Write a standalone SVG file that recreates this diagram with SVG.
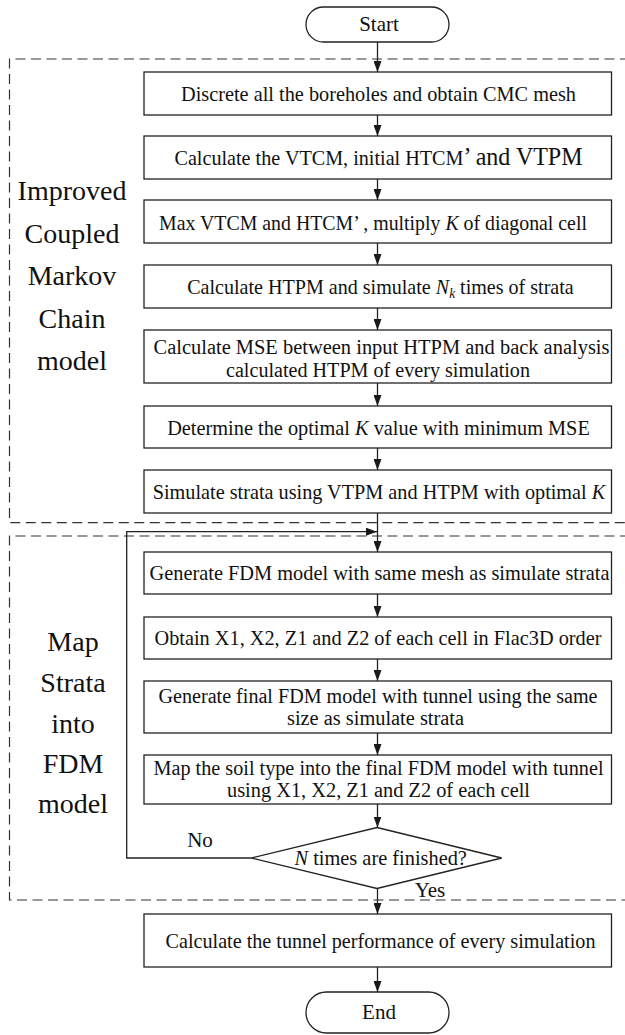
<svg xmlns="http://www.w3.org/2000/svg" width="625" height="1035" viewBox="0 0 625 1035">
  <style>
    .box { fill: #fff; stroke: #222; stroke-width: 1.3; }
    .frame { fill: none; stroke: #333; stroke-width: 1.2; stroke-dasharray: 10 5.5; }
    .wire { fill: none; stroke: #222; stroke-width: 1.3; }
    .t { font-family: "Liberation Serif", "Times New Roman", serif; font-size: 21px; fill: #111; }
    .t2 { font-size: 20px; }
    .lbl { font-family: "Liberation Serif", "Times New Roman", serif; font-size: 28px; fill: #111; text-anchor: middle; }
    .c { text-anchor: middle; }
    .i { font-style: italic; }
  </style>
  <defs>
    <marker id="ah" viewBox="0 0 11 8" refX="11" refY="4" markerWidth="11" markerHeight="8" markerUnits="userSpaceOnUse" orient="auto">
      <path d="M0,0 L11,4 L0,8 z" fill="#1a1a1a"/>
    </marker>
  </defs>

  <rect width="625" height="1035" fill="#fff"/>

  <!-- dashed stage frames (right edges run off the page) -->
  <g id="frames">
    <path class="frame" d="M630,59 H9.5 V522.7 H630"/>
    <path class="frame" d="M630,536 H9.5 V900 H630"/>
    <text class="lbl" x="72" y="200">Improved</text>
    <text class="lbl" x="72" y="242.5">Coupled</text>
    <text class="lbl" x="72" y="285">Markov</text>
    <text class="lbl" x="72" y="327.5">Chain</text>
    <text class="lbl" x="72" y="370">model</text>
    <text class="lbl" x="73" y="651">Map</text>
    <text class="lbl" x="73" y="692">Strata</text>
    <text class="lbl" x="73" y="733">into</text>
    <text class="lbl" x="73" y="773">FDM</text>
    <text class="lbl" x="73" y="813">model</text>
  </g>

  <!-- connectors -->
  <g id="connectors">
    <line class="wire" x1="377.5" y1="42" x2="377.5" y2="72" marker-end="url(#ah)"/>
    <line class="wire" x1="377.5" y1="115" x2="377.5" y2="136" marker-end="url(#ah)"/>
    <line class="wire" x1="377.5" y1="179" x2="377.5" y2="200" marker-end="url(#ah)"/>
    <line class="wire" x1="377.5" y1="243" x2="377.5" y2="265" marker-end="url(#ah)"/>
    <line class="wire" x1="377.5" y1="308" x2="377.5" y2="330" marker-end="url(#ah)"/>
    <line class="wire" x1="377.5" y1="383" x2="377.5" y2="406" marker-end="url(#ah)"/>
    <line class="wire" x1="377.5" y1="448" x2="377.5" y2="470" marker-end="url(#ah)"/>
    <line class="wire" x1="377.5" y1="513" x2="377.5" y2="552" marker-end="url(#ah)"/>
    <line class="wire" x1="377.5" y1="594" x2="377.5" y2="617" marker-end="url(#ah)"/>
    <line class="wire" x1="377.5" y1="659" x2="377.5" y2="681" marker-end="url(#ah)"/>
    <line class="wire" x1="377.5" y1="733" x2="377.5" y2="755" marker-end="url(#ah)"/>
    <line class="wire" x1="377.5" y1="804" x2="377.5" y2="827.5" marker-end="url(#ah)"/>
    <line class="wire" x1="377.5" y1="888.5" x2="377.5" y2="914" marker-end="url(#ah)"/>
    <line class="wire" x1="377.5" y1="967" x2="377.5" y2="992" marker-end="url(#ah)"/>
    <polyline class="wire" points="251.7,858 126.7,858 126.7,531.7 377,531.7" marker-end="url(#ah)"/>
    <text class="t c" x="200" y="847">No</text>
    <text class="t c" x="430" y="897">Yes</text>
  </g>

  <g id="start">
    <rect class="box" x="306" y="7" width="143" height="35" rx="17.5"/>
    <text class="t c" x="379" y="31" font-size="20">Start</text>
  </g>

  <g id="discretize">
    <rect class="box" x="144" y="72" width="467.5" height="43"/>
    <text class="t" x="181" y="100.5" textLength="395" lengthAdjust="spacingAndGlyphs">Discrete all the boreholes and obtain CMC mesh</text>
  </g>

  <!-- lines mixing styles are narrowed with a horizontal scale instead of textLength -->
  <g id="calc-vtcm">
    <rect class="box" x="144" y="136" width="467.5" height="43"/>
    <text class="t c" transform="translate(378.5 165) scale(0.96 1)">Calculate the VTCM, initial HTCM<tspan font-size="25">’ and VTPM</tspan></text>
  </g>

  <g id="max-vtcm">
    <rect class="box" x="144" y="200" width="467.5" height="43"/>
    <text class="t c" transform="translate(373 229.5) scale(0.945 1)">Max VTCM and HTCM’ , multiply <tspan class="i">K</tspan> of diagonal cell</text>
  </g>

  <g id="calc-htpm">
    <rect class="box" x="144" y="265" width="467.5" height="43"/>
    <text class="t c" transform="translate(380.5 294) scale(0.956 1)">Calculate HTPM and simulate <tspan class="i">N</tspan><tspan class="i" font-size="14" dy="4">k</tspan><tspan dy="-4"> times of strata</tspan></text>
  </g>

  <g id="calc-mse">
    <rect class="box" x="144" y="330" width="467.5" height="53"/>
    <text class="t t2" x="153.5" y="354" textLength="456" lengthAdjust="spacingAndGlyphs">Calculate MSE between input HTPM and back analysis</text>
    <text class="t t2" x="226" y="376.5" textLength="304" lengthAdjust="spacingAndGlyphs">calculated HTPM of every simulation</text>
  </g>

  <g id="optimal-k">
    <rect class="box" x="144" y="406" width="467.5" height="42"/>
    <text class="t c" transform="translate(378.5 434.5) scale(0.968 1)">Determine the optimal <tspan class="i">K</tspan> value with minimum MSE</text>
  </g>

  <g id="simulate">
    <rect class="box" x="144" y="470" width="467.5" height="43"/>
    <text class="t c" transform="translate(379 499) scale(0.964 1)">Simulate strata using VTPM and HTPM with optimal <tspan class="i">K</tspan></text>
  </g>

  <g id="gen-fdm">
    <rect class="box" x="144" y="552" width="467.5" height="42"/>
    <text class="t" x="149.5" y="580" textLength="460" lengthAdjust="spacingAndGlyphs">Generate FDM model with same mesh as simulate strata</text>
  </g>

  <g id="obtain-coords">
    <rect class="box" x="144" y="617" width="467.5" height="42"/>
    <text class="t" x="154.5" y="645" textLength="447" lengthAdjust="spacingAndGlyphs">Obtain X1, X2, Z1 and Z2 of each cell in Flac3D order</text>
  </g>

  <g id="gen-final">
    <rect class="box" x="144" y="681" width="467.5" height="52"/>
    <text class="t t2" x="158.5" y="702.5" textLength="439" lengthAdjust="spacingAndGlyphs">Generate final FDM model with tunnel using the same</text>
    <text class="t t2" x="287" y="725" textLength="177" lengthAdjust="spacingAndGlyphs">size as simulate strata</text>
  </g>

  <g id="map-soil">
    <rect class="box" x="144" y="755" width="467.5" height="49"/>
    <text class="t t2" x="153.5" y="774.5" textLength="450" lengthAdjust="spacingAndGlyphs">Map the soil type into the final FDM model with tunnel</text>
    <text class="t t2" x="227" y="797" textLength="303" lengthAdjust="spacingAndGlyphs">using X1, X2, Z1 and Z2 of each cell</text>
  </g>

  <g id="check-n">
    <polygon class="box" points="377,827.5 501.7,858 377,888.5 251.7,858"/>
    <text class="t c" transform="translate(380.7 865) scale(0.97 1)"><tspan class="i">N</tspan> times are finished?</text>
  </g>

  <g id="performance">
    <rect class="box" x="144" y="914" width="467.5" height="53"/>
    <text class="t" x="165.5" y="947.5" textLength="430" lengthAdjust="spacingAndGlyphs">Calculate the tunnel performance of every simulation</text>
  </g>

  <g id="end">
    <rect class="box" x="306" y="992" width="143" height="41" rx="20.5"/>
    <text class="t c" x="379" y="1019" font-size="20">End</text>
  </g>
</svg>
